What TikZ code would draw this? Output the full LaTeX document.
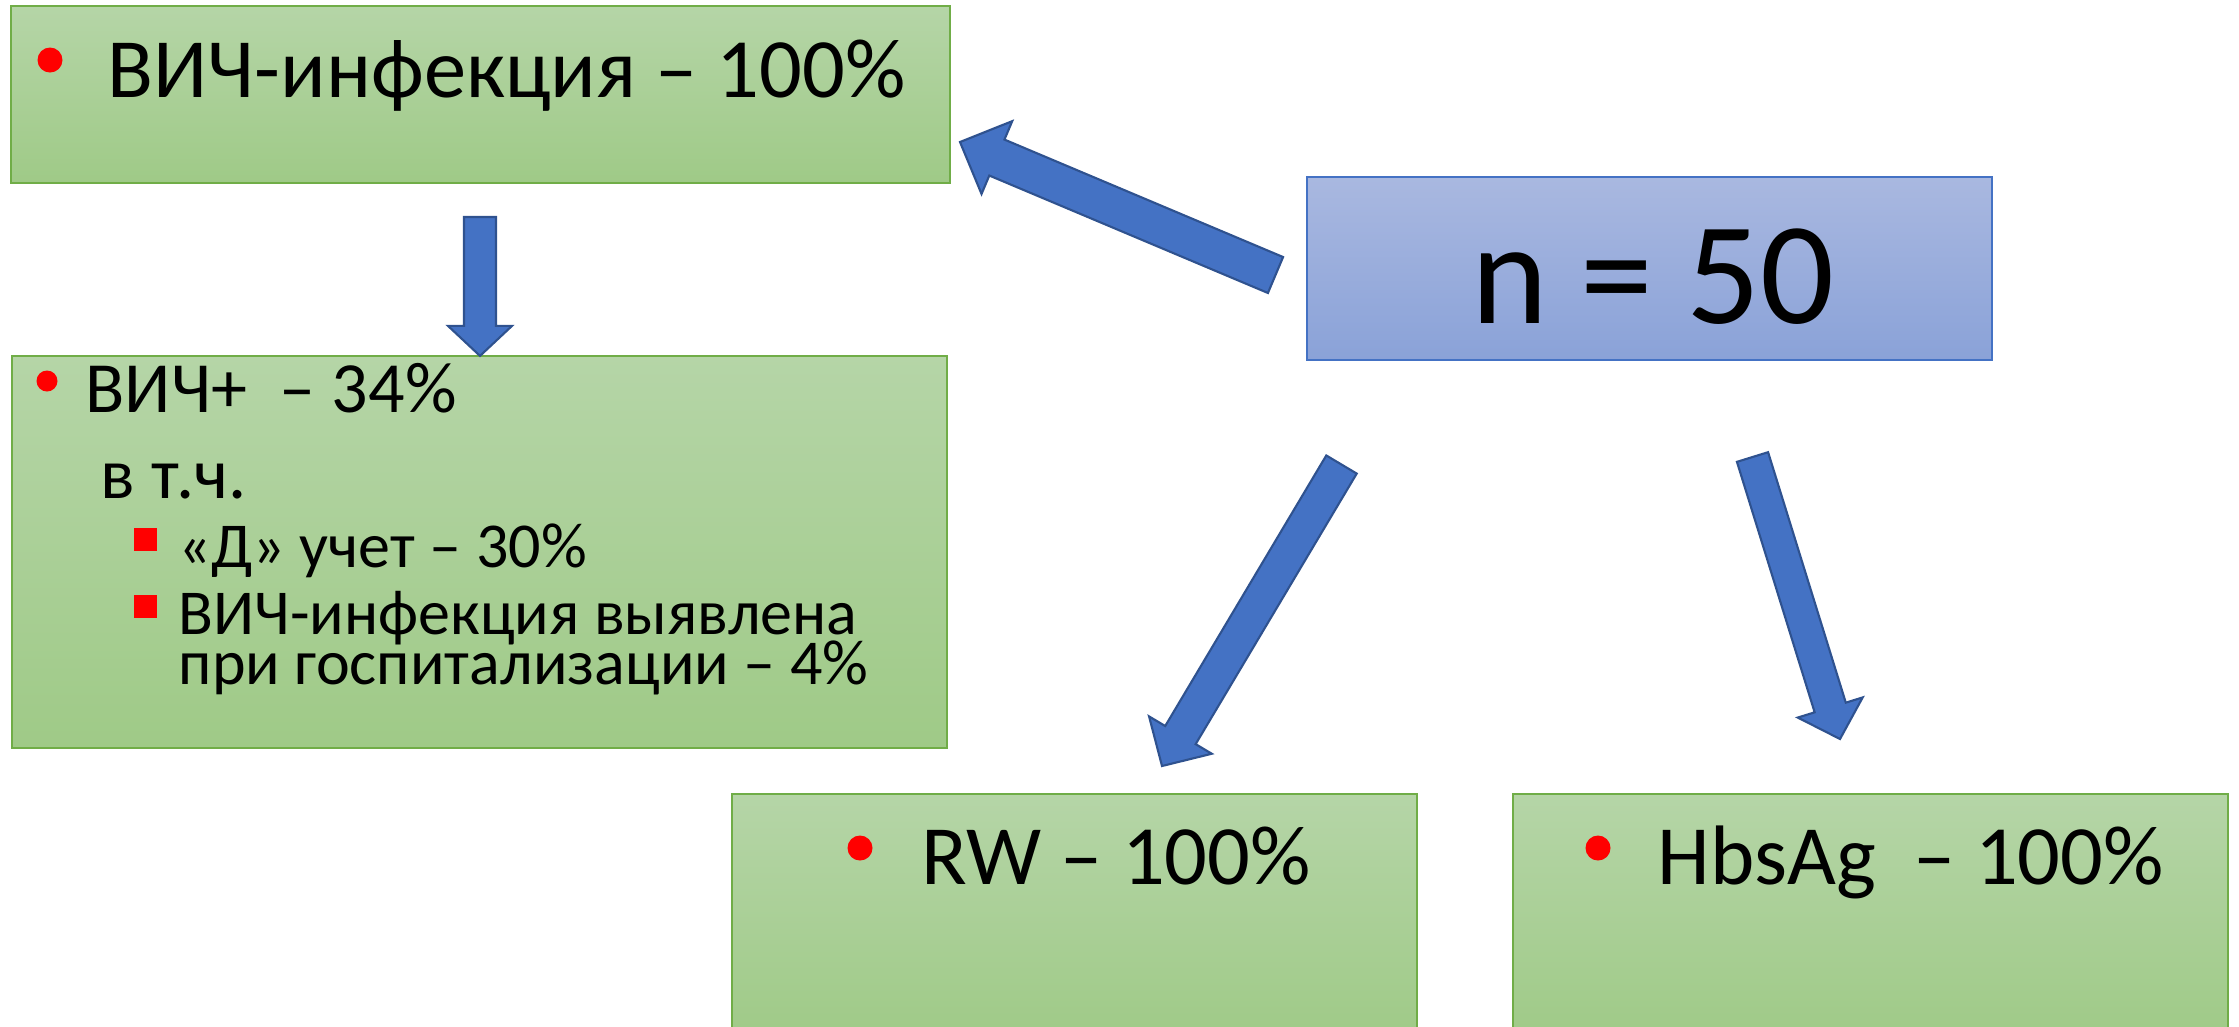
\documentclass[tikz,border=0pt]{standalone}
\usepackage{fontspec}
\setmainfont{Carlito}
\usetikzlibrary{calc, positioning}
\definecolor{GRtop}{HTML}{B5D5A7}
\definecolor{GRbot}{HTML}{9FCA87}
\definecolor{GRedge}{HTML}{70AD47}
\definecolor{BLtop}{HTML}{A9B8E0}
\definecolor{BLbot}{HTML}{8AA2D8}
\definecolor{BLedge}{HTML}{4472C4}
\definecolor{ARfill}{HTML}{4472C4}
\definecolor{ARedge}{HTML}{2F528F}
\definecolor{BUred}{HTML}{FF0000}
\tikzset{
   gbox/.style={draw=GRedge, line width=0.55pt, top color=GRtop, bottom color=GRbot, inner sep=0pt, outer sep=0pt},
   bbox/.style={draw=BLedge, line width=0.6pt, top color=BLtop, bottom color=BLbot, inner sep=0pt, outer sep=0pt},
   blockarr/.style={fill=ARfill, draw=ARedge, line width=0.6pt, line join=miter},
   txt/.style={anchor=base west, inner sep=0pt}
}
% block arrow: tail, tip, half shaft, head length, half head
\newcommand{\blockarrow}[5]{%
   \draw[blockarr]
      ($(#1)!#3!90:(#2)$) -- ($(#2)!#4!(#1)!#3!90:(#2)$) -- ($(#2)!#4!(#1)!#5!90:(#2)$)
      -- (#2)
      -- ($(#2)!#4!(#1)!#5!-90:(#2)$) -- ($(#2)!#4!(#1)!#3!-90:(#2)$) -- ($(#1)!#3!-90:(#2)$)
      -- cycle;}

\begin{document}
\begin{tikzpicture}[x=0.01cm, y=-0.01cm]
            \useasboundingbox (0,0) rectangle (2239,1026);
            \clip (0,0) rectangle (2239,1026);
            % Boxes
            \node[gbox, minimum width=9.39cm, minimum height=1.77cm] (hiv) at (480.5,94.5) {};
            \node[gbox, minimum width=9.35cm, minimum height=3.92cm] (hivpos) at (479.5,552) {};
            \node[bbox, minimum width=6.85cm, minimum height=1.83cm] (total) at (1649.5,268.5) {};
            \node[gbox, minimum width=6.85cm, minimum height=2.46cm] (rw) at (1074.5,917) {};
            \node[gbox, minimum width=7.15cm, minimum height=2.46cm] (hbs) at (1870.5,917) {};
            % Texts
            \fill[BUred] (50,60) circle (12.5);
            \node[txt, font=\fontsize{24}{28}\selectfont] (hivtxt) at (107,97) {ВИЧ-инфекция – 100\%};
            \fill[BUred] (47,381) circle (10.5);
            \node[txt, font=\fontsize{20.5}{25}\selectfont] (postxt) at (85,412) {ВИЧ+~ – 34\%};
            \node[txt, font=\fontsize{20.5}{25}\selectfont] (incl) at (100,498) {в т.ч.};
            \fill[BUred] (134,528) rectangle (157,551);
            \node[txt, font=\fontsize{18.2}{21}\selectfont] (dtxt) at (178,567) {«Д» учет – 30\%};
            \fill[BUred] (134,595) rectangle (157,618);
            \node[txt, text depth=0pt, font=\fontsize{18.2}{21}\selectfont] (hosp1) at (178,634) {ВИЧ-инфекция выявлена};
            \node[txt, text height=0.4cm, font=\fontsize{18.2}{21}\selectfont] (hosp2) at (178,684) {при госпитализации – 4\%};
            \node[anchor=base, inner sep=0pt, font=\fontsize{41.5}{48}\selectfont] (ntxt) at (1653,323) {n = 50};
            \fill[BUred] (860,848) circle (12.5);
            \node[txt, font=\fontsize{24}{28}\selectfont] (rwtxt) at (921,884) {RW – 100\%};
            \fill[BUred] (1598,848) circle (12.5);
            \node[txt, font=\fontsize{24}{28}\selectfont] (hbstxt) at (1657,884) {HbsAg~ – 100\%};
            % Arrows
            \coordinate (a1s) at (480,217);
            \coordinate (a1e) at (hivpos.north -| a1s);
            \coordinate (a2s) at (1275.5,275);
            \coordinate (a2e) at (960,142);
            \coordinate (a3s) at (1341.5,464.5);
            \coordinate (a3e) at (1162,766);
            \coordinate (a4s) at (1752.5,457);
            \coordinate (a4e) at (1840,739);
            \blockarrow{a1s}{a1e}{0.16cm}{0.30cm}{0.32cm}
            \blockarrow{a2s}{a2e}{0.195cm}{0.40cm}{0.395cm}
            \blockarrow{a3s}{a3e}{0.177cm}{0.36cm}{0.365cm}
            \blockarrow{a4s}{a4e}{0.163cm}{0.33cm}{0.34cm}
         \end{tikzpicture}
\end{document}
